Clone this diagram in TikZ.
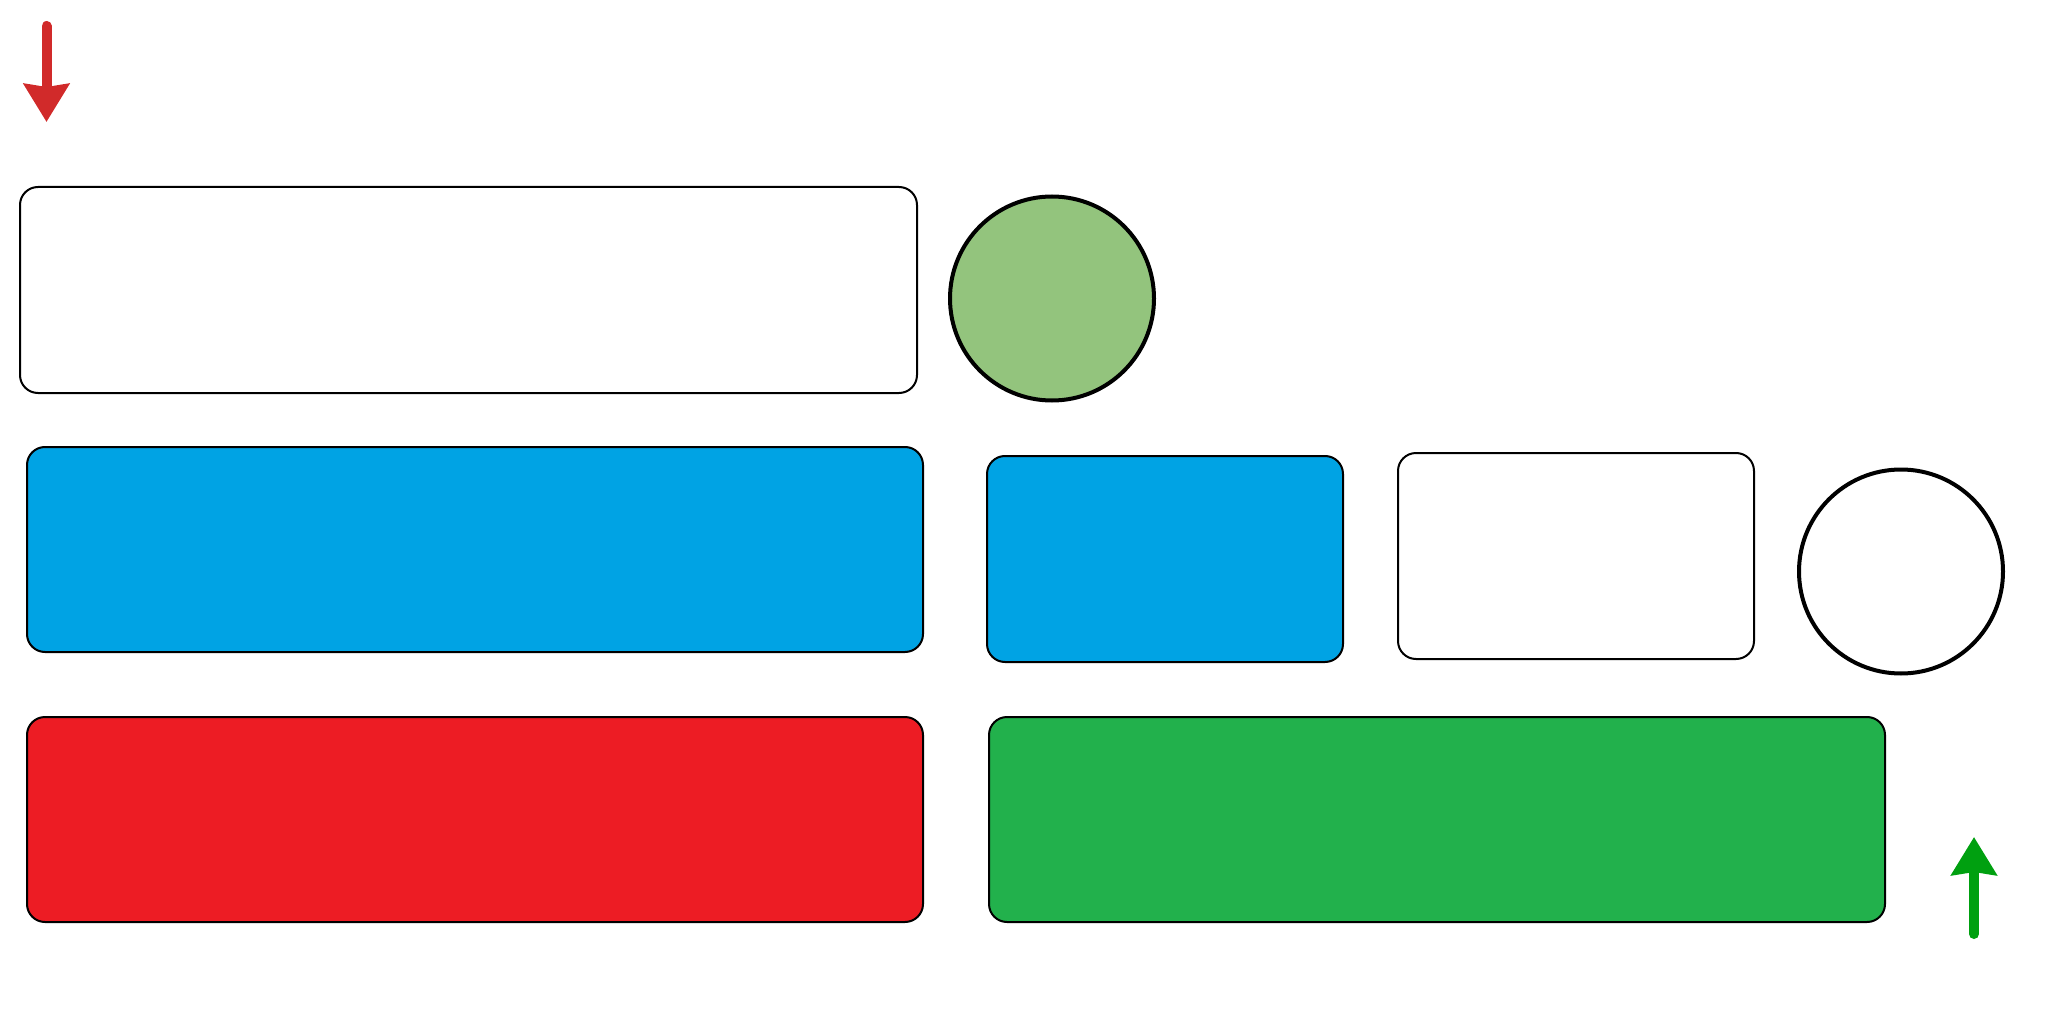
\documentclass[tikz,border=0pt]{standalone}
\usetikzlibrary{arrows.meta}
\definecolor{cblue}{RGB}{0,163,228}
\definecolor{cred}{RGB}{237,28,36}
\definecolor{cgreen}{RGB}{34,177,76}
\definecolor{clight}{RGB}{147,196,125}
\definecolor{arrred}{RGB}{209,42,42}
\definecolor{arrgreen}{RGB}{0,160,16}
\tikzset{
  box/.style={draw=black, line width=2pt, rounded corners=18pt},
  disc/.style={draw=black, line width=4pt},
  bigarrow/.style={line width=10pt, line cap=round, -{Triangle[width=45pt,length=38pt,inset=3pt]}}
}
\begin{document}
\begin{tikzpicture}[x=1pt,y=-1pt]
\useasboundingbox (0,0) rectangle (2048,1024);
% boxes
\draw[box, fill=white] (20,187) rectangle (917,393);
\draw[box, fill=cblue] (27,447) rectangle (923,652);
\draw[box, fill=cblue] (987,456) rectangle (1343,662);
\draw[box, fill=white] (1398,453) rectangle (1754,659);
\draw[box, fill=cred] (27,717) rectangle (923,922);
\draw[box, fill=cgreen] (989,717) rectangle (1885,922);
% circles
\draw[disc, fill=clight] (1052,298.5) circle (102);
\draw[disc, fill=white] (1901,571.5) circle (102);
% arrows
\coordinate (r1) at (46.5,26);
\coordinate (r2) at (46.5,122);
\draw[bigarrow, arrred] (r1) -- (r2);
\coordinate (g1) at (1974,934);
\coordinate (g2) at (1974,837);
\draw[bigarrow, arrgreen] (g1) -- (g2);
\end{tikzpicture}
\end{document}
